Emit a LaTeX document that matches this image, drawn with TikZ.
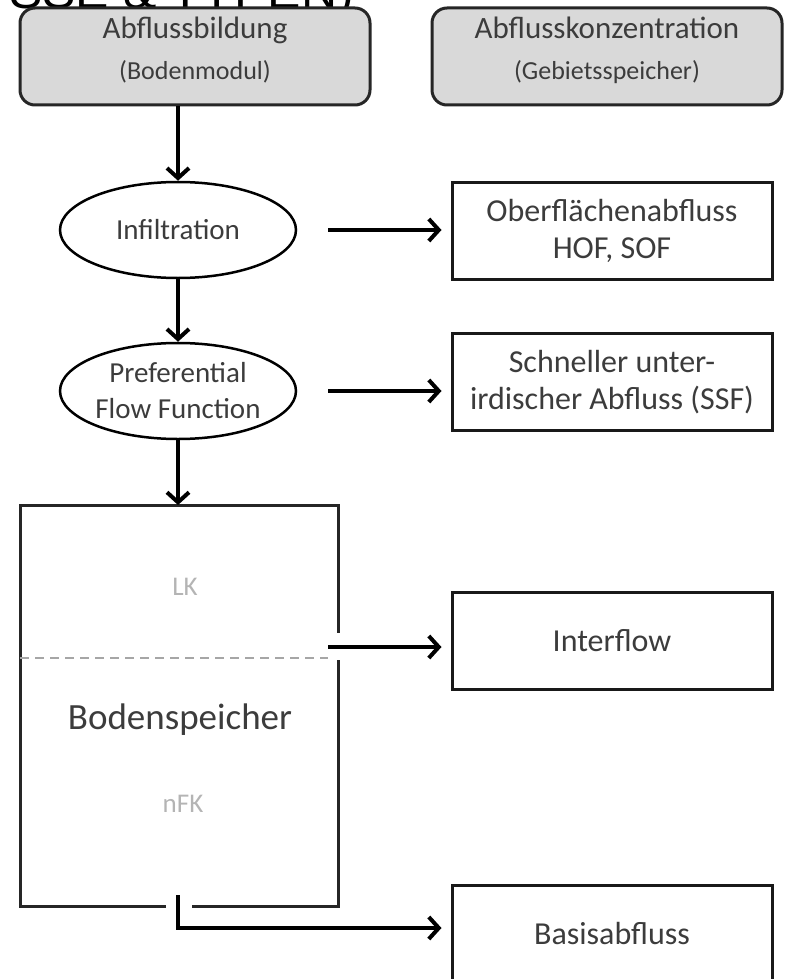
\documentclass[tikz,border=0pt]{standalone}
\usepackage{fontspec}
\setmainfont{Carlito}
\newfontfamily\hdfont{Liberation Sans}
\usetikzlibrary{arrows.meta,shapes.geometric}
\definecolor{txt}{HTML}{3C3C3C}
\definecolor{hdfill}{HTML}{D9D9D9}
\definecolor{lkgray}{HTML}{B4B4B4}

\begin{document}
\begin{tikzpicture}[x=1pt,y=-1pt,
  head/.style={draw=black!85,line width=3pt,fill=hdfill,rounded corners=15pt,minimum width=350pt,minimum height=97pt,align=center,text=txt,text depth=16pt,font=\fontsize{26}{41}\selectfont},
  proc/.style={draw=black,line width=2.5pt,ellipse,inner sep=0pt,minimum width=236pt,minimum height=96pt,align=center,text=txt,font=\fontsize{29}{36}\selectfont},
  target/.style={draw=black!90,line width=3pt,minimum width=320pt,minimum height=97pt,align=center,text=txt,font=\fontsize{32}{37}\selectfont},
  wall/.style={draw=black!85,line width=3pt},
  sep/.style={draw=black!35,line width=1.5pt,dash pattern=on 9pt off 6pt},
  faint/.style={text=lkgray,font=\fontsize{27}{30}\selectfont},
  flow/.style={line width=4pt,-{Straight Barb[length=10pt,width=22pt]}}]
\useasboundingbox (0,0) rectangle (785,979);
\clip (0,0) rectangle (785,979);
\node[anchor=base east,inner sep=0pt,font=\hdfont\fontsize{50}{50}\selectfont] (titel) at (354,9) {SSE \& TYPEN)};
\node[head] (bild) at (195,56.5) {{\fontsize{31}{41}\selectfont Abflussbildung}\\(Bodenmodul)};
\node[head] (konz) at (607,56.5) {{\fontsize{31}{41}\selectfont Abflusskonzentration}\\(Gebietsspeicher)};
\node[proc] (infil) at (178,230) {Infiltration};
\node[proc] (pff) at (178,391) {Preferential\\Flow Function};
\node[target] (ofa) at (612,230.5) {Oberflächenabfluss\\HOF, SOF};
\node[target] (ssf) at (612,382) {Schneller unter-\\irdischer Abfluss (SSF)};
\node[target] (ifl) at (612,641) {Interflow};
\node[target] (bas) at (612,933.5) {Basisabfluss};
\node[text=txt,font=\fontsize{37}{40}\selectfont] (bsp) at (180,720) {Bodenspeicher};
\node[faint] (lk) at (185,587) {LK};
\node[faint] (nfk) at (183,804) {nFK};
\coordinate (btop) at (178,505);
\coordinate (ifout) at (328,647);
\coordinate (bfout) at (178,895);
\coordinate (bfknick) at (178,928);
\draw[wall] (166,906) -| (20,505) -| (338,633);
\draw[wall] (338,660) |- (192,906);
\draw[sep] (20,658) -- (328,658);
\draw[flow] (bild.south -| infil.north) -- (infil.north);
\draw[flow] (infil.south) -- (pff.north);
\draw[flow] (pff.south) -- (btop);
\draw[flow,shorten <=31pt,shorten >=9pt] (infil.east) -- (infil.east -| ofa.west);
\draw[flow,shorten <=31pt,shorten >=9pt] (pff.east) -- (pff.east -| ssf.west);
\draw[flow,shorten >=9pt] (ifout) -- (ifout -| ifl.west);
\draw[flow,shorten >=9pt] (bfout) -- (bfknick) -- (bfknick -| bas.west);
\end{tikzpicture}
\end{document}
